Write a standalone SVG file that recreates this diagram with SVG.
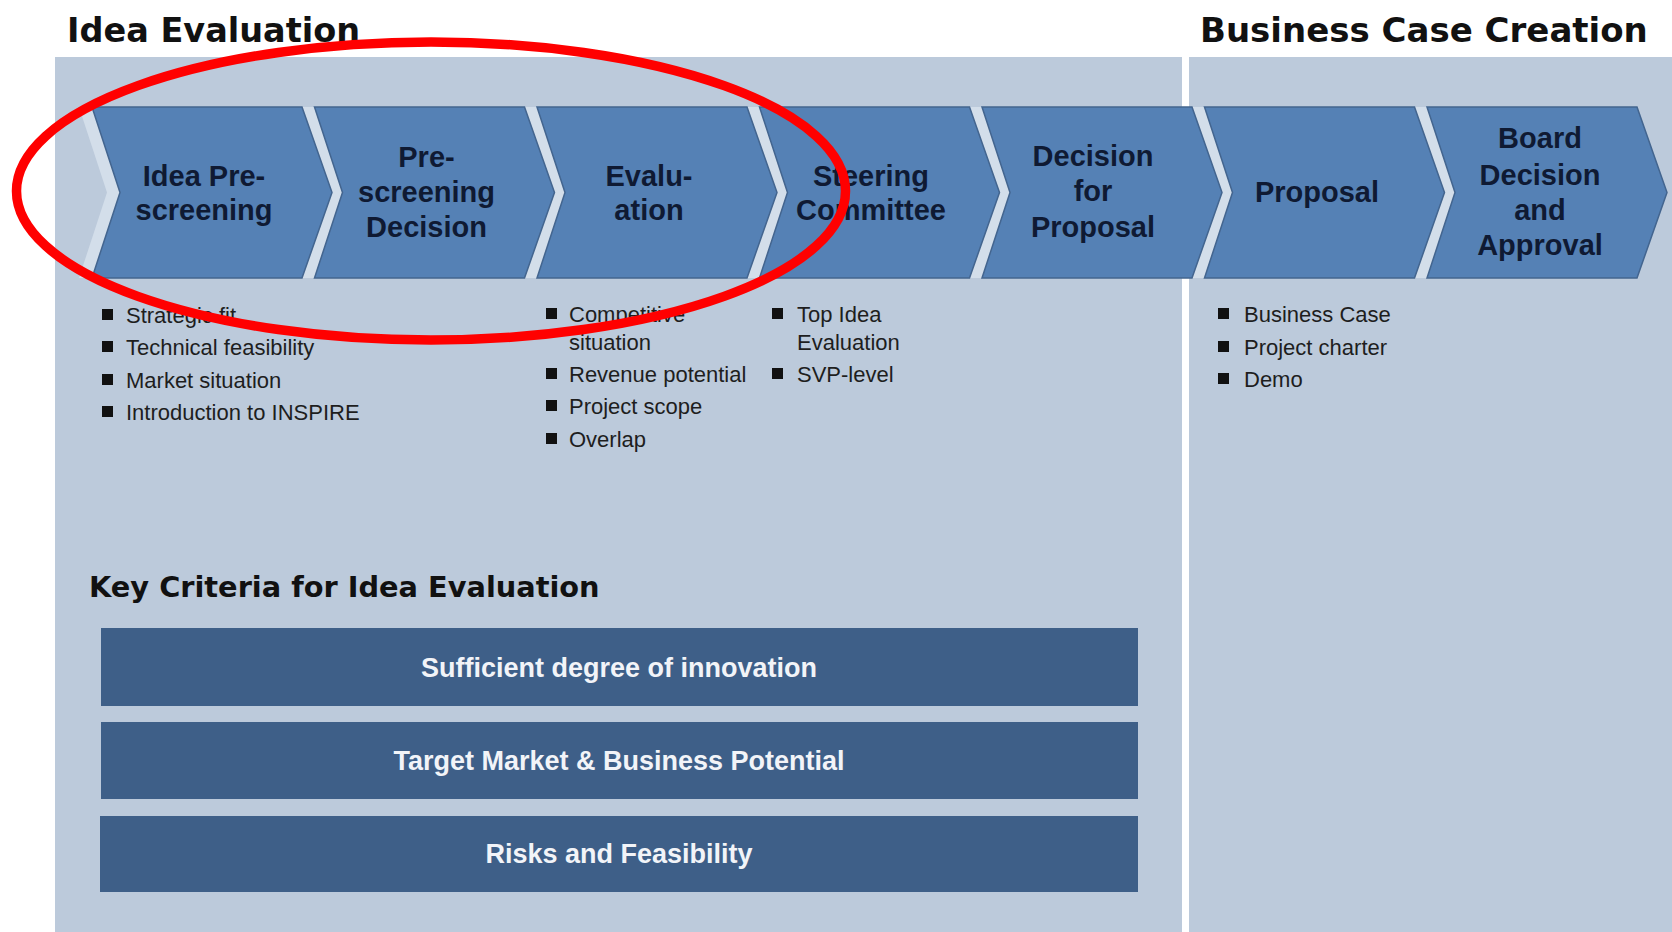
<svg xmlns="http://www.w3.org/2000/svg" width="1672" height="932" viewBox="0 0 1672 932">
<style>
.title{font-family:"DejaVu Sans",Verdana,sans-serif;font-weight:bold;fill:#111;}
.chev{fill:#5581b5;stroke:#43658f;stroke-width:1.5;}
.gap{fill:#d3deea;}
.ct{font-family:"Liberation Sans",Arial,sans-serif;font-weight:bold;font-size:29px;fill:#0f1a33;text-anchor:middle;}
.bt{font-family:"Liberation Sans",Arial,sans-serif;font-size:22px;fill:#1e1e1e;}
.bul{fill:#111;}
.bar{fill:#3e5f88;}
.bart{font-family:"Liberation Sans",Arial,sans-serif;font-weight:bold;font-size:27px;fill:#f2f4f8;text-anchor:middle;}
</style>
<rect x="0" y="0" width="1672" height="932" fill="#ffffff"/>
<g id="panels">
<rect x="55" y="57" width="1127" height="875" fill="#bccadb"/>
<rect x="1189" y="57" width="483" height="875" fill="#bccadb"/>
</g>
<text class="title" x="67" y="42" font-size="33.5">Idea Evaluation</text>
<text class="title" x="1200" y="42" font-size="34">Business Case Creation</text>

<g id="gaps">
<polygon class="gap" points="79,107 92,107 120,192.5 92,278 79,278 107,192.5"/>
<polygon class="gap" points="302,107 314.5,107 342.5,192.5 314.5,278 302,278 332,192.5"/>
<polygon class="gap" points="524.5,107 537,107 565,192.5 537,278 524.5,278 554.5,192.5"/>
<polygon class="gap" points="747,107 759.5,107 787.5,192.5 759.5,278 747,278 777,192.5"/>
<polygon class="gap" points="969.5,107 982,107 1010,192.5 982,278 969.5,278 999.5,192.5"/>
<polygon class="gap" points="1192,107 1204.5,107 1232.5,192.5 1204.5,278 1192,278 1222,192.5"/>
<polygon class="gap" points="1414.5,107 1427,107 1455,192.5 1427,278 1414.5,278 1444.5,192.5"/>
</g>

<g id="step-idea-prescreening">
<polygon class="chev" points="92,107 302,107 332,192.5 302,278 92,278 120,192.5"/>
<text class="ct" x="204" y="186">Idea Pre-</text>
<text class="ct" x="204" y="220">screening</text>
</g>
<g id="step-prescreening-decision">
<polygon class="chev" points="314.5,107 524.5,107 554.5,192.5 524.5,278 314.5,278 342.5,192.5"/>
<text class="ct" x="426.5" y="167">Pre-</text>
<text class="ct" x="426.5" y="202">screening</text>
<text class="ct" x="426.5" y="237">Decision</text>
</g>
<g id="step-evaluation">
<polygon class="chev" points="537,107 747,107 777,192.5 747,278 537,278 565,192.5"/>
<text class="ct" x="649" y="186">Evalu-</text>
<text class="ct" x="649" y="220">ation</text>
</g>
<g id="step-steering-committee">
<polygon class="chev" points="759.5,107 969.5,107 999.5,192.5 969.5,278 759.5,278 787.5,192.5"/>
<text class="ct" x="871" y="186">Steering</text>
<text class="ct" x="871" y="220">Committee</text>
</g>
<g id="step-decision-for-proposal">
<polygon class="chev" points="982,107 1192,107 1222,192.5 1192,278 982,278 1010,192.5"/>
<text class="ct" x="1093" y="166">Decision</text>
<text class="ct" x="1093" y="201">for</text>
<text class="ct" x="1093" y="237">Proposal</text>
</g>
<g id="step-proposal">
<polygon class="chev" points="1204.5,107 1414.5,107 1444.5,192.5 1414.5,278 1204.5,278 1232.5,192.5"/>
<text class="ct" x="1317" y="202">Proposal</text>
</g>
<g id="step-board-decision">
<polygon class="chev" points="1427,107 1637,107 1667,192.5 1637,278 1427,278 1455,192.5"/>
<text class="ct" x="1540" y="148">Board</text>
<text class="ct" x="1540" y="185">Decision</text>
<text class="ct" x="1540" y="220">and</text>
<text class="ct" x="1540" y="255">Approval</text>
</g>

<g id="list-prescreening">
<rect class="bul" x="102" y="309" width="11" height="11"/>
<text class="bt" x="126" y="323">Strategic fit</text>
<rect class="bul" x="102" y="341" width="11" height="11"/>
<text class="bt" x="126" y="355">Technical feasibility</text>
<rect class="bul" x="102" y="374" width="11" height="11"/>
<text class="bt" x="126" y="388">Market situation</text>
<rect class="bul" x="102" y="406" width="11" height="11"/>
<text class="bt" x="126" y="420">Introduction to INSPIRE</text>
</g>
<g id="list-evaluation">
<rect class="bul" x="546" y="308" width="11" height="11"/>
<text class="bt" x="569" y="322">Competitive</text>
<text class="bt" x="569" y="350">situation</text>
<rect class="bul" x="546" y="368" width="11" height="11"/>
<text class="bt" x="569" y="382">Revenue potential</text>
<rect class="bul" x="546" y="400" width="11" height="11"/>
<text class="bt" x="569" y="414">Project scope</text>
<rect class="bul" x="546" y="433" width="11" height="11"/>
<text class="bt" x="569" y="447">Overlap</text>
</g>
<g id="list-steering">
<rect class="bul" x="772" y="308" width="11" height="11"/>
<text class="bt" x="797" y="322">Top Idea</text>
<text class="bt" x="797" y="350">Evaluation</text>
<rect class="bul" x="772" y="368" width="11" height="11"/>
<text class="bt" x="797" y="382">SVP-level</text>
</g>
<g id="list-proposal">
<rect class="bul" x="1218" y="308" width="11" height="11"/>
<text class="bt" x="1244" y="322">Business Case</text>
<rect class="bul" x="1218" y="341" width="11" height="11"/>
<text class="bt" x="1244" y="355">Project charter</text>
<rect class="bul" x="1218" y="373" width="11" height="11"/>
<text class="bt" x="1244" y="387">Demo</text>
</g>

<text class="title" x="89" y="597" font-size="28.8">Key Criteria for Idea Evaluation</text>
<g id="criterion-innovation">
<rect class="bar" x="101" y="628" width="1037" height="78"/>
<text class="bart" x="619" y="677">Sufficient degree of innovation</text>
</g>
<g id="criterion-market">
<rect class="bar" x="101" y="722" width="1037" height="77"/>
<text class="bart" x="619" y="770">Target Market &amp; Business Potential</text>
</g>
<g id="criterion-risks">
<rect class="bar" x="100" y="816" width="1038" height="76"/>
<text class="bart" x="619" y="863">Risks and Feasibility</text>
</g>
<g id="connectors"/>
<ellipse id="highlight" cx="431" cy="191" rx="414.5" ry="149" fill="none" stroke="#ff0000" stroke-width="9.5"/>
</svg>
